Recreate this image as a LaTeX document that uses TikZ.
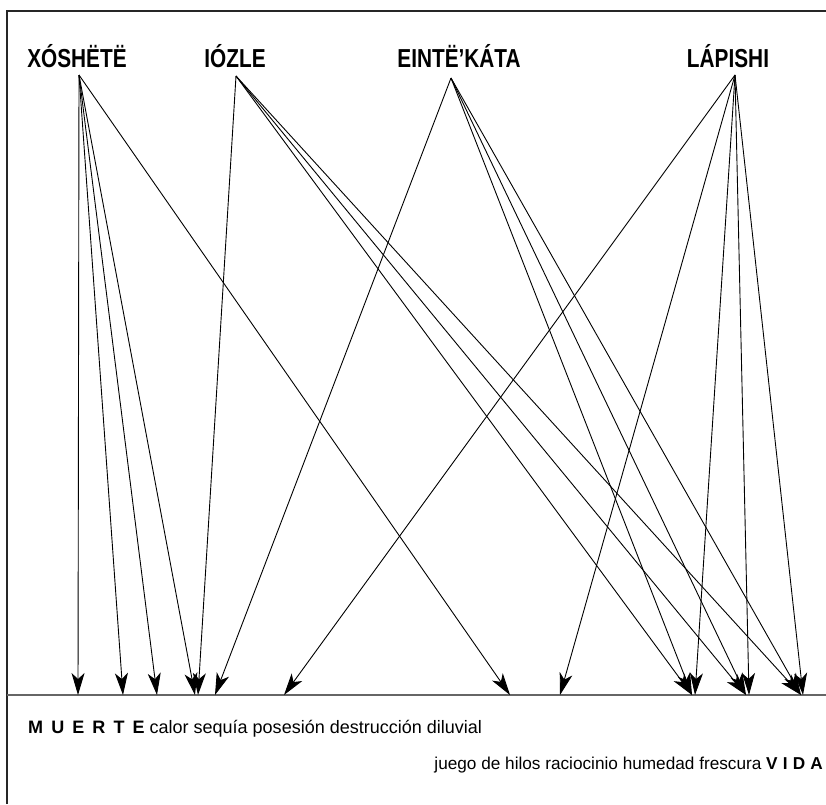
\documentclass[tikz,border=0pt]{standalone}
\usepackage{fontspec}
\setmainfont{Liberation Sans}[FakeStretch=0.8]
\newfontfamily\bodyfont{Liberation Sans}
\usetikzlibrary{arrows.meta}
\newcommand{\spc}{\hspace{0.3em}}
\newcommand{\wspc}{\hspace{0.45em}}
\begin{document}
\begin{tikzpicture}[x=1pt,y=-1pt,
  arr/.style={-{Stealth[length=22pt,width=13pt,inset=6pt]}, line width=0.9pt},
  lbl/.style={anchor=base, font=\fontsize{26}{30}\selectfont\bfseries, inner sep=0pt},
  bottxt/.style={font=\bodyfont\fontsize{18}{21}\selectfont, inner sep=0pt}]
\useasboundingbox (0,0) rectangle (826,804);
% frame
\draw[line width=2.5pt, black!85] (7,804) -- (7,11) -- (826,11);
\draw[line width=2pt, black!60] (7,695) -- (826,695);
% labels
\node[lbl] (X) at (77,67) {XÓSHËTË};
\node[lbl] (I) at (235,67) {IÓZLE};
\node[lbl] (E) at (459,67) {EINTË’KÁTA};
\node[lbl] (L) at (728,67) {LÁPISHI};
% apexes
\coordinate (xa) at (79,75);
\coordinate (ia) at (236,76);
\coordinate (ea) at (451,78);
\coordinate (la) at (735,75);
% targets on the base line
\foreach \n/\x in {t78/78,t123/123,t157/157,t195/195,t198/198,t215/215,t284/284,t510/510,t560/560,t692/692,t695/695,t746/746,t749/749,t801/801,t803/803}
  \coordinate (\n) at (\x,695);
% arrows
\foreach \t in {t78,t123,t157,t195,t510} \draw[arr] (xa) -- (\t);
\foreach \t in {t198,t692,t746,t801} \draw[arr] (ia) -- (\t);
\foreach \t in {t215,t692,t746,t801} \draw[arr] (ea) -- (\t);
\foreach \t in {t284,t560,t695,t749,t803} \draw[arr] (la) -- (\t);
% bottom text
\node[bottxt, anchor=base west] (muerte) at (28,733) {\textbf{M\wspc U\wspc E\wspc R\wspc T\wspc E} calor sequía posesión destrucción diluvial};
\node[bottxt, anchor=base east] (vida) at (823,769) {\fontsize{17.2}{21}\selectfont juego de hilos raciocinio humedad frescura \textbf{V\spc I\spc D\spc A}};
\end{tikzpicture}
\end{document}
